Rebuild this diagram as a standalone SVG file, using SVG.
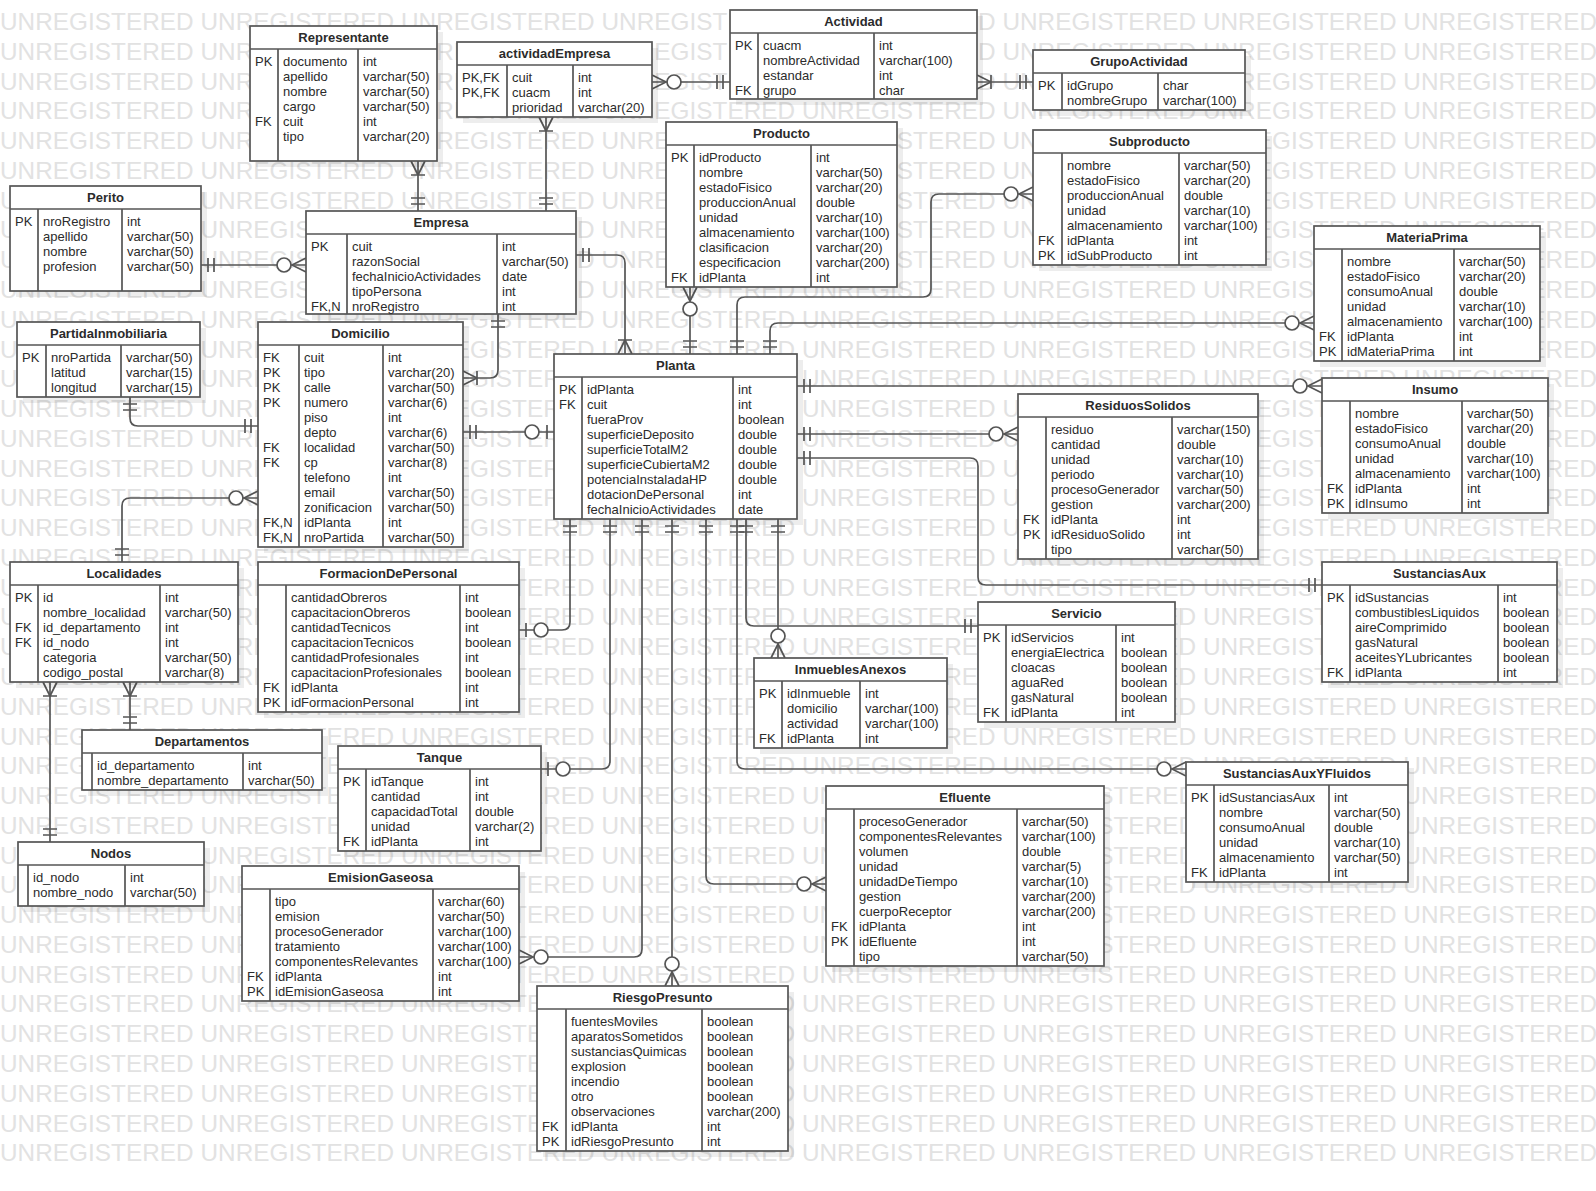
<svg xmlns="http://www.w3.org/2000/svg" width="1596" height="1191" viewBox="0 0 1596 1191">
<style>
.wm{font-family:"Liberation Sans",Arial,sans-serif;font-size:24.3px;fill:#e2e2e2}
.sh{fill:#000;fill-opacity:.07}
.bx{fill:#fff;stroke:#555;stroke-width:1.7}
.dv{fill:none;stroke:#555;stroke-width:1.7}
.t{font-family:"Liberation Sans",Arial,sans-serif;font-size:13px;fill:#2b2b2b}
.ti{font-family:"Liberation Sans",Arial,sans-serif;font-size:13px;font-weight:bold;fill:#2b2b2b;text-anchor:middle}
.c{fill:none;stroke:#555;stroke-width:1.7}
.mk{fill:none;stroke:#555;stroke-width:1.7}
.mc{fill:#fff;stroke:#555;stroke-width:1.7}
</style>
<defs>
<marker id="one" markerUnits="userSpaceOnUse" orient="auto-start-reverse" overflow="visible" refX="0" refY="0" markerWidth="1" markerHeight="1"><path class="mk" d="M-7,-7V7M-13,-7V7"/></marker>
<marker id="oneMany" markerUnits="userSpaceOnUse" orient="auto-start-reverse" overflow="visible" refX="0" refY="0" markerWidth="1" markerHeight="1"><path class="mk" d="M-14,0L0,-7M-14,0L0,7M-14,-7V7"/></marker>
<marker id="zeroMany" markerUnits="userSpaceOnUse" orient="auto-start-reverse" overflow="visible" refX="0" refY="0" markerWidth="1" markerHeight="1"><path class="mk" d="M-14,0L0,-7M-14,0L0,7"/><circle class="mc" cx="-22" cy="0" r="7"/></marker>
<marker id="zeroOne" markerUnits="userSpaceOnUse" orient="auto-start-reverse" overflow="visible" refX="0" refY="0" markerWidth="1" markerHeight="1"><path class="mk" d="M-7,-7V7"/><circle class="mc" cx="-22" cy="0" r="7"/></marker>
</defs>
<rect x="0" y="0" width="1596" height="1191" fill="#fff"/>
<g id="watermark">
<text class="wm" x="0" y="30" textLength="1597" lengthAdjust="spacing">UNREGISTERED UNREGISTERED UNREGISTERED UNREGISTERED UNREGISTERED UNREGISTERED UNREGISTERED UNREGISTERED</text>
<text class="wm" x="0" y="59.8" textLength="1597" lengthAdjust="spacing">UNREGISTERED UNREGISTERED UNREGISTERED UNREGISTERED UNREGISTERED UNREGISTERED UNREGISTERED UNREGISTERED</text>
<text class="wm" x="0" y="89.5" textLength="1597" lengthAdjust="spacing">UNREGISTERED UNREGISTERED UNREGISTERED UNREGISTERED UNREGISTERED UNREGISTERED UNREGISTERED UNREGISTERED</text>
<text class="wm" x="0" y="119.3" textLength="1597" lengthAdjust="spacing">UNREGISTERED UNREGISTERED UNREGISTERED UNREGISTERED UNREGISTERED UNREGISTERED UNREGISTERED UNREGISTERED</text>
<text class="wm" x="0" y="149.1" textLength="1597" lengthAdjust="spacing">UNREGISTERED UNREGISTERED UNREGISTERED UNREGISTERED UNREGISTERED UNREGISTERED UNREGISTERED UNREGISTERED</text>
<text class="wm" x="0" y="178.9" textLength="1597" lengthAdjust="spacing">UNREGISTERED UNREGISTERED UNREGISTERED UNREGISTERED UNREGISTERED UNREGISTERED UNREGISTERED UNREGISTERED</text>
<text class="wm" x="0" y="208.6" textLength="1597" lengthAdjust="spacing">UNREGISTERED UNREGISTERED UNREGISTERED UNREGISTERED UNREGISTERED UNREGISTERED UNREGISTERED UNREGISTERED</text>
<text class="wm" x="0" y="238.4" textLength="1597" lengthAdjust="spacing">UNREGISTERED UNREGISTERED UNREGISTERED UNREGISTERED UNREGISTERED UNREGISTERED UNREGISTERED UNREGISTERED</text>
<text class="wm" x="0" y="268.2" textLength="1597" lengthAdjust="spacing">UNREGISTERED UNREGISTERED UNREGISTERED UNREGISTERED UNREGISTERED UNREGISTERED UNREGISTERED UNREGISTERED</text>
<text class="wm" x="0" y="297.9" textLength="1597" lengthAdjust="spacing">UNREGISTERED UNREGISTERED UNREGISTERED UNREGISTERED UNREGISTERED UNREGISTERED UNREGISTERED UNREGISTERED</text>
<text class="wm" x="0" y="327.7" textLength="1597" lengthAdjust="spacing">UNREGISTERED UNREGISTERED UNREGISTERED UNREGISTERED UNREGISTERED UNREGISTERED UNREGISTERED UNREGISTERED</text>
<text class="wm" x="0" y="357.5" textLength="1597" lengthAdjust="spacing">UNREGISTERED UNREGISTERED UNREGISTERED UNREGISTERED UNREGISTERED UNREGISTERED UNREGISTERED UNREGISTERED</text>
<text class="wm" x="0" y="387.2" textLength="1597" lengthAdjust="spacing">UNREGISTERED UNREGISTERED UNREGISTERED UNREGISTERED UNREGISTERED UNREGISTERED UNREGISTERED UNREGISTERED</text>
<text class="wm" x="0" y="417" textLength="1597" lengthAdjust="spacing">UNREGISTERED UNREGISTERED UNREGISTERED UNREGISTERED UNREGISTERED UNREGISTERED UNREGISTERED UNREGISTERED</text>
<text class="wm" x="0" y="446.8" textLength="1597" lengthAdjust="spacing">UNREGISTERED UNREGISTERED UNREGISTERED UNREGISTERED UNREGISTERED UNREGISTERED UNREGISTERED UNREGISTERED</text>
<text class="wm" x="0" y="476.6" textLength="1597" lengthAdjust="spacing">UNREGISTERED UNREGISTERED UNREGISTERED UNREGISTERED UNREGISTERED UNREGISTERED UNREGISTERED UNREGISTERED</text>
<text class="wm" x="0" y="506.3" textLength="1597" lengthAdjust="spacing">UNREGISTERED UNREGISTERED UNREGISTERED UNREGISTERED UNREGISTERED UNREGISTERED UNREGISTERED UNREGISTERED</text>
<text class="wm" x="0" y="536.1" textLength="1597" lengthAdjust="spacing">UNREGISTERED UNREGISTERED UNREGISTERED UNREGISTERED UNREGISTERED UNREGISTERED UNREGISTERED UNREGISTERED</text>
<text class="wm" x="0" y="565.9" textLength="1597" lengthAdjust="spacing">UNREGISTERED UNREGISTERED UNREGISTERED UNREGISTERED UNREGISTERED UNREGISTERED UNREGISTERED UNREGISTERED</text>
<text class="wm" x="0" y="595.6" textLength="1597" lengthAdjust="spacing">UNREGISTERED UNREGISTERED UNREGISTERED UNREGISTERED UNREGISTERED UNREGISTERED UNREGISTERED UNREGISTERED</text>
<text class="wm" x="0" y="625.4" textLength="1597" lengthAdjust="spacing">UNREGISTERED UNREGISTERED UNREGISTERED UNREGISTERED UNREGISTERED UNREGISTERED UNREGISTERED UNREGISTERED</text>
<text class="wm" x="0" y="655.2" textLength="1597" lengthAdjust="spacing">UNREGISTERED UNREGISTERED UNREGISTERED UNREGISTERED UNREGISTERED UNREGISTERED UNREGISTERED UNREGISTERED</text>
<text class="wm" x="0" y="684.9" textLength="1597" lengthAdjust="spacing">UNREGISTERED UNREGISTERED UNREGISTERED UNREGISTERED UNREGISTERED UNREGISTERED UNREGISTERED UNREGISTERED</text>
<text class="wm" x="0" y="714.7" textLength="1597" lengthAdjust="spacing">UNREGISTERED UNREGISTERED UNREGISTERED UNREGISTERED UNREGISTERED UNREGISTERED UNREGISTERED UNREGISTERED</text>
<text class="wm" x="0" y="744.5" textLength="1597" lengthAdjust="spacing">UNREGISTERED UNREGISTERED UNREGISTERED UNREGISTERED UNREGISTERED UNREGISTERED UNREGISTERED UNREGISTERED</text>
<text class="wm" x="0" y="774.3" textLength="1597" lengthAdjust="spacing">UNREGISTERED UNREGISTERED UNREGISTERED UNREGISTERED UNREGISTERED UNREGISTERED UNREGISTERED UNREGISTERED</text>
<text class="wm" x="0" y="804" textLength="1597" lengthAdjust="spacing">UNREGISTERED UNREGISTERED UNREGISTERED UNREGISTERED UNREGISTERED UNREGISTERED UNREGISTERED UNREGISTERED</text>
<text class="wm" x="0" y="833.8" textLength="1597" lengthAdjust="spacing">UNREGISTERED UNREGISTERED UNREGISTERED UNREGISTERED UNREGISTERED UNREGISTERED UNREGISTERED UNREGISTERED</text>
<text class="wm" x="0" y="863.6" textLength="1597" lengthAdjust="spacing">UNREGISTERED UNREGISTERED UNREGISTERED UNREGISTERED UNREGISTERED UNREGISTERED UNREGISTERED UNREGISTERED</text>
<text class="wm" x="0" y="893.3" textLength="1597" lengthAdjust="spacing">UNREGISTERED UNREGISTERED UNREGISTERED UNREGISTERED UNREGISTERED UNREGISTERED UNREGISTERED UNREGISTERED</text>
<text class="wm" x="0" y="923.1" textLength="1597" lengthAdjust="spacing">UNREGISTERED UNREGISTERED UNREGISTERED UNREGISTERED UNREGISTERED UNREGISTERED UNREGISTERED UNREGISTERED</text>
<text class="wm" x="0" y="952.9" textLength="1597" lengthAdjust="spacing">UNREGISTERED UNREGISTERED UNREGISTERED UNREGISTERED UNREGISTERED UNREGISTERED UNREGISTERED UNREGISTERED</text>
<text class="wm" x="0" y="982.6" textLength="1597" lengthAdjust="spacing">UNREGISTERED UNREGISTERED UNREGISTERED UNREGISTERED UNREGISTERED UNREGISTERED UNREGISTERED UNREGISTERED</text>
<text class="wm" x="0" y="1012.4" textLength="1597" lengthAdjust="spacing">UNREGISTERED UNREGISTERED UNREGISTERED UNREGISTERED UNREGISTERED UNREGISTERED UNREGISTERED UNREGISTERED</text>
<text class="wm" x="0" y="1042.2" textLength="1597" lengthAdjust="spacing">UNREGISTERED UNREGISTERED UNREGISTERED UNREGISTERED UNREGISTERED UNREGISTERED UNREGISTERED UNREGISTERED</text>
<text class="wm" x="0" y="1072" textLength="1597" lengthAdjust="spacing">UNREGISTERED UNREGISTERED UNREGISTERED UNREGISTERED UNREGISTERED UNREGISTERED UNREGISTERED UNREGISTERED</text>
<text class="wm" x="0" y="1101.7" textLength="1597" lengthAdjust="spacing">UNREGISTERED UNREGISTERED UNREGISTERED UNREGISTERED UNREGISTERED UNREGISTERED UNREGISTERED UNREGISTERED</text>
<text class="wm" x="0" y="1131.5" textLength="1597" lengthAdjust="spacing">UNREGISTERED UNREGISTERED UNREGISTERED UNREGISTERED UNREGISTERED UNREGISTERED UNREGISTERED UNREGISTERED</text>
<text class="wm" x="0" y="1161.3" textLength="1597" lengthAdjust="spacing">UNREGISTERED UNREGISTERED UNREGISTERED UNREGISTERED UNREGISTERED UNREGISTERED UNREGISTERED UNREGISTERED</text>
</g>
<g id="connectors">
<path class="c" d="M418,161V211" marker-start="url(#oneMany)" marker-end="url(#one)"/>
<path class="c" d="M546,117V211" marker-start="url(#oneMany)" marker-end="url(#one)"/>
<path class="c" d="M652,82H730" marker-start="url(#zeroMany)" marker-end="url(#one)"/>
<path class="c" d="M977,82H1033" marker-start="url(#oneMany)" marker-end="url(#one)"/>
<path class="c" d="M201,265H306" marker-start="url(#one)" marker-end="url(#zeroMany)"/>
<path class="c" d="M576,255H617Q625,255 625,263V354" marker-start="url(#one)" marker-end="url(#oneMany)"/>
<path class="c" d="M463,378H490Q498,378 498,370V314" marker-start="url(#oneMany)" marker-end="url(#one)"/>
<path class="c" d="M130,397V418Q130,426 138,426H258" marker-start="url(#one)" marker-end="url(#one)"/>
<path class="c" d="M258,498H130Q122,498 122,506V562" marker-start="url(#zeroMany)" marker-end="url(#one)"/>
<path class="c" d="M463,432H554" marker-start="url(#one)" marker-end="url(#zeroOne)"/>
<path class="c" d="M690,287V354" marker-start="url(#zeroMany)" marker-end="url(#one)"/>
<path class="c" d="M1033,194H939Q931,194 931,202V289Q931,297 923,297H745Q737,297 737,305V354" marker-start="url(#zeroMany)" marker-end="url(#one)"/>
<path class="c" d="M1314,323H778Q770,323 770,331V354" marker-start="url(#zeroMany)" marker-end="url(#one)"/>
<path class="c" d="M797,386H1322" marker-start="url(#one)" marker-end="url(#zeroMany)"/>
<path class="c" d="M797,434H1018" marker-start="url(#one)" marker-end="url(#zeroMany)"/>
<path class="c" d="M797,458H970Q978,458 978,466V577Q978,585 986,585H1322" marker-start="url(#one)" marker-end="url(#one)"/>
<path class="c" d="M570,519V622Q570,630 562,630H519" marker-start="url(#one)" marker-end="url(#zeroOne)"/>
<path class="c" d="M610,519V761Q610,769 602,769H541" marker-start="url(#one)" marker-end="url(#zeroOne)"/>
<path class="c" d="M642,519V949Q642,957 634,957H519" marker-start="url(#one)" marker-end="url(#zeroMany)"/>
<path class="c" d="M672,519V986" marker-start="url(#one)" marker-end="url(#zeroMany)"/>
<path class="c" d="M706,519V876Q706,884 714,884H826" marker-start="url(#one)" marker-end="url(#zeroMany)"/>
<path class="c" d="M737,519V761Q737,769 745,769H1186" marker-start="url(#one)" marker-end="url(#zeroMany)"/>
<path class="c" d="M746,519V618Q746,626 754,626H978" marker-start="url(#one)" marker-end="url(#one)"/>
<path class="c" d="M778,519V658" marker-start="url(#one)" marker-end="url(#zeroMany)"/>
<path class="c" d="M130,682V730" marker-start="url(#oneMany)" marker-end="url(#one)"/>
<path class="c" d="M50,682V842" marker-start="url(#oneMany)" marker-end="url(#one)"/>
</g>
<g id="representante">
<rect class="sh" x="256" y="32" width="187" height="135"/>
<rect class="bx" x="250" y="26" width="187" height="135"/>
<path class="dv" d="M250,49H437M278,49V161M358,49V161"/>
<text class="ti" x="343.5" y="42">Representante</text>
<text class="t"><tspan x="255" y="66">PK</tspan><tspan x="255" y="126">FK</tspan></text>
<text class="t"><tspan x="283" y="66">documento</tspan><tspan x="283" y="81">apellido</tspan><tspan x="283" y="96">nombre</tspan><tspan x="283" y="111">cargo</tspan><tspan x="283" y="126">cuit</tspan><tspan x="283" y="141">tipo</tspan></text>
<text class="t"><tspan x="363" y="66">int</tspan><tspan x="363" y="81">varchar(50)</tspan><tspan x="363" y="96">varchar(50)</tspan><tspan x="363" y="111">varchar(50)</tspan><tspan x="363" y="126">int</tspan><tspan x="363" y="141">varchar(20)</tspan></text>
</g>
<g id="perito">
<rect class="sh" x="16" y="192" width="191" height="105"/>
<rect class="bx" x="10" y="186" width="191" height="105"/>
<path class="dv" d="M10,209H201M38,209V291M122,209V291"/>
<text class="ti" x="105.5" y="202">Perito</text>
<text class="t"><tspan x="15" y="226">PK</tspan></text>
<text class="t"><tspan x="43" y="226">nroRegistro</tspan><tspan x="43" y="241">apellido</tspan><tspan x="43" y="256">nombre</tspan><tspan x="43" y="271">profesion</tspan></text>
<text class="t"><tspan x="127" y="226">int</tspan><tspan x="127" y="241">varchar(50)</tspan><tspan x="127" y="256">varchar(50)</tspan><tspan x="127" y="271">varchar(50)</tspan></text>
</g>
<g id="actividadEmpresa">
<rect class="sh" x="463" y="48" width="195" height="75"/>
<rect class="bx" x="457" y="42" width="195" height="75"/>
<path class="dv" d="M457,65H652M507,65V117M573,65V117"/>
<text class="ti" x="554.5" y="58">actividadEmpresa</text>
<text class="t"><tspan x="462" y="82">PK,FK</tspan><tspan x="462" y="97">PK,FK</tspan></text>
<text class="t"><tspan x="512" y="82">cuit</tspan><tspan x="512" y="97">cuacm</tspan><tspan x="512" y="112">prioridad</tspan></text>
<text class="t"><tspan x="578" y="82">int</tspan><tspan x="578" y="97">int</tspan><tspan x="578" y="112">varchar(20)</tspan></text>
</g>
<g id="actividad">
<rect class="sh" x="736" y="16" width="247" height="89"/>
<rect class="bx" x="730" y="10" width="247" height="89"/>
<path class="dv" d="M730,33H977M758,33V99M874,33V99"/>
<text class="ti" x="853.5" y="26">Actividad</text>
<text class="t"><tspan x="735" y="50">PK</tspan><tspan x="735" y="95">FK</tspan></text>
<text class="t"><tspan x="763" y="50">cuacm</tspan><tspan x="763" y="65">nombreActividad</tspan><tspan x="763" y="80">estandar</tspan><tspan x="763" y="95">grupo</tspan></text>
<text class="t"><tspan x="879" y="50">int</tspan><tspan x="879" y="65">varchar(100)</tspan><tspan x="879" y="80">int</tspan><tspan x="879" y="95">char</tspan></text>
</g>
<g id="grupoActividad">
<rect class="sh" x="1039" y="56" width="212" height="60"/>
<rect class="bx" x="1033" y="50" width="212" height="60"/>
<path class="dv" d="M1033,73H1245M1062,73V110M1158,73V110"/>
<text class="ti" x="1139" y="66">GrupoActividad</text>
<text class="t"><tspan x="1038" y="90">PK</tspan></text>
<text class="t"><tspan x="1067" y="90">idGrupo</tspan><tspan x="1067" y="105">nombreGrupo</tspan></text>
<text class="t"><tspan x="1163" y="90">char</tspan><tspan x="1163" y="105">varchar(100)</tspan></text>
</g>
<g id="subproducto">
<rect class="sh" x="1039" y="136" width="233" height="135"/>
<rect class="bx" x="1033" y="130" width="233" height="135"/>
<path class="dv" d="M1033,153H1266M1062,153V265M1179,153V265"/>
<text class="ti" x="1149.5" y="146">Subproducto</text>
<text class="t"><tspan x="1038" y="245">FK</tspan><tspan x="1038" y="260">PK</tspan></text>
<text class="t"><tspan x="1067" y="170">nombre</tspan><tspan x="1067" y="185">estadoFisico</tspan><tspan x="1067" y="200">produccionAnual</tspan><tspan x="1067" y="215">unidad</tspan><tspan x="1067" y="230">almacenamiento</tspan><tspan x="1067" y="245">idPlanta</tspan><tspan x="1067" y="260">idSubProducto</tspan></text>
<text class="t"><tspan x="1184" y="170">varchar(50)</tspan><tspan x="1184" y="185">varchar(20)</tspan><tspan x="1184" y="200">double</tspan><tspan x="1184" y="215">varchar(10)</tspan><tspan x="1184" y="230">varchar(100)</tspan><tspan x="1184" y="245">int</tspan><tspan x="1184" y="260">int</tspan></text>
</g>
<g id="producto">
<rect class="sh" x="672" y="128" width="231" height="165"/>
<rect class="bx" x="666" y="122" width="231" height="165"/>
<path class="dv" d="M666,145H897M694,145V287M811,145V287"/>
<text class="ti" x="781.5" y="138">Producto</text>
<text class="t"><tspan x="671" y="162">PK</tspan><tspan x="671" y="282">FK</tspan></text>
<text class="t"><tspan x="699" y="162">idProducto</tspan><tspan x="699" y="177">nombre</tspan><tspan x="699" y="192">estadoFisico</tspan><tspan x="699" y="207">produccionAnual</tspan><tspan x="699" y="222">unidad</tspan><tspan x="699" y="237">almacenamiento</tspan><tspan x="699" y="252">clasificacion</tspan><tspan x="699" y="267">especificacion</tspan><tspan x="699" y="282">idPlanta</tspan></text>
<text class="t"><tspan x="816" y="162">int</tspan><tspan x="816" y="177">varchar(50)</tspan><tspan x="816" y="192">varchar(20)</tspan><tspan x="816" y="207">double</tspan><tspan x="816" y="222">varchar(10)</tspan><tspan x="816" y="237">varchar(100)</tspan><tspan x="816" y="252">varchar(20)</tspan><tspan x="816" y="267">varchar(200)</tspan><tspan x="816" y="282">int</tspan></text>
</g>
<g id="empresa">
<rect class="sh" x="312" y="217" width="270" height="103"/>
<rect class="bx" x="306" y="211" width="270" height="103"/>
<path class="dv" d="M306,234H576M347,234V314M497,234V314"/>
<text class="ti" x="441" y="227">Empresa</text>
<text class="t"><tspan x="311" y="251">PK</tspan><tspan x="311" y="311">FK,N</tspan></text>
<text class="t"><tspan x="352" y="251">cuit</tspan><tspan x="352" y="266">razonSocial</tspan><tspan x="352" y="281">fechaInicioActividades</tspan><tspan x="352" y="296">tipoPersona</tspan><tspan x="352" y="311">nroRegistro</tspan></text>
<text class="t"><tspan x="502" y="251">int</tspan><tspan x="502" y="266">varchar(50)</tspan><tspan x="502" y="281">date</tspan><tspan x="502" y="296">int</tspan><tspan x="502" y="311">int</tspan></text>
</g>
<g id="partidaInmobiliaria">
<rect class="sh" x="23" y="328" width="183" height="75"/>
<rect class="bx" x="17" y="322" width="183" height="75"/>
<path class="dv" d="M17,345H200M46,345V397M121,345V397"/>
<text class="ti" x="108.5" y="338">PartidaInmobiliaria</text>
<text class="t"><tspan x="22" y="362">PK</tspan></text>
<text class="t"><tspan x="51" y="362">nroPartida</tspan><tspan x="51" y="377">latitud</tspan><tspan x="51" y="392">longitud</tspan></text>
<text class="t"><tspan x="126" y="362">varchar(50)</tspan><tspan x="126" y="377">varchar(15)</tspan><tspan x="126" y="392">varchar(15)</tspan></text>
</g>
<g id="domicilio">
<rect class="sh" x="264" y="328" width="205" height="225"/>
<rect class="bx" x="258" y="322" width="205" height="225"/>
<path class="dv" d="M258,345H463M299,345V547M383,345V547"/>
<text class="ti" x="360.5" y="338">Domicilio</text>
<text class="t"><tspan x="263" y="362">FK</tspan><tspan x="263" y="377">PK</tspan><tspan x="263" y="392">PK</tspan><tspan x="263" y="407">PK</tspan><tspan x="263" y="452">FK</tspan><tspan x="263" y="467">FK</tspan><tspan x="263" y="527">FK,N</tspan><tspan x="263" y="542">FK,N</tspan></text>
<text class="t"><tspan x="304" y="362">cuit</tspan><tspan x="304" y="377">tipo</tspan><tspan x="304" y="392">calle</tspan><tspan x="304" y="407">numero</tspan><tspan x="304" y="422">piso</tspan><tspan x="304" y="437">depto</tspan><tspan x="304" y="452">localidad</tspan><tspan x="304" y="467">cp</tspan><tspan x="304" y="482">telefono</tspan><tspan x="304" y="497">email</tspan><tspan x="304" y="512">zonificacion</tspan><tspan x="304" y="527">idPlanta</tspan><tspan x="304" y="542">nroPartida</tspan></text>
<text class="t"><tspan x="388" y="362">int</tspan><tspan x="388" y="377">varchar(20)</tspan><tspan x="388" y="392">varchar(50)</tspan><tspan x="388" y="407">varchar(6)</tspan><tspan x="388" y="422">int</tspan><tspan x="388" y="437">varchar(6)</tspan><tspan x="388" y="452">varchar(50)</tspan><tspan x="388" y="467">varchar(8)</tspan><tspan x="388" y="482">int</tspan><tspan x="388" y="497">varchar(50)</tspan><tspan x="388" y="512">varchar(50)</tspan><tspan x="388" y="527">int</tspan><tspan x="388" y="542">varchar(50)</tspan></text>
</g>
<g id="localidades">
<rect class="sh" x="16" y="568" width="228" height="120"/>
<rect class="bx" x="10" y="562" width="228" height="120"/>
<path class="dv" d="M10,585H238M38,585V682M160,585V682"/>
<text class="ti" x="124" y="578">Localidades</text>
<text class="t"><tspan x="15" y="602">PK</tspan><tspan x="15" y="632">FK</tspan><tspan x="15" y="647">FK</tspan></text>
<text class="t"><tspan x="43" y="602">id</tspan><tspan x="43" y="617">nombre_localidad</tspan><tspan x="43" y="632">id_departamento</tspan><tspan x="43" y="647">id_nodo</tspan><tspan x="43" y="662">categoria</tspan><tspan x="43" y="677">codigo_postal</tspan></text>
<text class="t"><tspan x="165" y="602">int</tspan><tspan x="165" y="617">varchar(50)</tspan><tspan x="165" y="632">int</tspan><tspan x="165" y="647">int</tspan><tspan x="165" y="662">varchar(50)</tspan><tspan x="165" y="677">varchar(8)</tspan></text>
</g>
<g id="formacionDePersonal">
<rect class="sh" x="264" y="568" width="261" height="150"/>
<rect class="bx" x="258" y="562" width="261" height="150"/>
<path class="dv" d="M258,585H519M286,585V712M460,585V712"/>
<text class="ti" x="388.5" y="578">FormacionDePersonal</text>
<text class="t"><tspan x="263" y="692">FK</tspan><tspan x="263" y="707">PK</tspan></text>
<text class="t"><tspan x="291" y="602">cantidadObreros</tspan><tspan x="291" y="617">capacitacionObreros</tspan><tspan x="291" y="632">cantidadTecnicos</tspan><tspan x="291" y="647">capacitacionTecnicos</tspan><tspan x="291" y="662">cantidadProfesionales</tspan><tspan x="291" y="677">capacitacionProfesionales</tspan><tspan x="291" y="692">idPlanta</tspan><tspan x="291" y="707">idFormacionPersonal</tspan></text>
<text class="t"><tspan x="465" y="602">int</tspan><tspan x="465" y="617">boolean</tspan><tspan x="465" y="632">int</tspan><tspan x="465" y="647">boolean</tspan><tspan x="465" y="662">int</tspan><tspan x="465" y="677">boolean</tspan><tspan x="465" y="692">int</tspan><tspan x="465" y="707">int</tspan></text>
</g>
<g id="planta">
<rect class="sh" x="560" y="360" width="243" height="165"/>
<rect class="bx" x="554" y="354" width="243" height="165"/>
<path class="dv" d="M554,377H797M582,377V519M733,377V519"/>
<text class="ti" x="675.5" y="370">Planta</text>
<text class="t"><tspan x="559" y="394">PK</tspan><tspan x="559" y="409">FK</tspan></text>
<text class="t"><tspan x="587" y="394">idPlanta</tspan><tspan x="587" y="409">cuit</tspan><tspan x="587" y="424">fueraProv</tspan><tspan x="587" y="439">superficieDeposito</tspan><tspan x="587" y="454">superficieTotalM2</tspan><tspan x="587" y="469">superficieCubiertaM2</tspan><tspan x="587" y="484">potenciaInstaladaHP</tspan><tspan x="587" y="499">dotacionDePersonal</tspan><tspan x="587" y="514">fechaInicioActividades</tspan></text>
<text class="t"><tspan x="738" y="394">int</tspan><tspan x="738" y="409">int</tspan><tspan x="738" y="424">boolean</tspan><tspan x="738" y="439">double</tspan><tspan x="738" y="454">double</tspan><tspan x="738" y="469">double</tspan><tspan x="738" y="484">double</tspan><tspan x="738" y="499">int</tspan><tspan x="738" y="514">date</tspan></text>
</g>
<g id="residuosSolidos">
<rect class="sh" x="1024" y="400" width="240" height="165"/>
<rect class="bx" x="1018" y="394" width="240" height="165"/>
<path class="dv" d="M1018,417H1258M1046,417V559M1172,417V559"/>
<text class="ti" x="1138" y="410">ResiduosSolidos</text>
<text class="t"><tspan x="1023" y="524">FK</tspan><tspan x="1023" y="539">PK</tspan></text>
<text class="t"><tspan x="1051" y="434">residuo</tspan><tspan x="1051" y="449">cantidad</tspan><tspan x="1051" y="464">unidad</tspan><tspan x="1051" y="479">periodo</tspan><tspan x="1051" y="494">procesoGenerador</tspan><tspan x="1051" y="509">gestion</tspan><tspan x="1051" y="524">idPlanta</tspan><tspan x="1051" y="539">idResiduoSolido</tspan><tspan x="1051" y="554">tipo</tspan></text>
<text class="t"><tspan x="1177" y="434">varchar(150)</tspan><tspan x="1177" y="449">double</tspan><tspan x="1177" y="464">varchar(10)</tspan><tspan x="1177" y="479">varchar(10)</tspan><tspan x="1177" y="494">varchar(50)</tspan><tspan x="1177" y="509">varchar(200)</tspan><tspan x="1177" y="524">int</tspan><tspan x="1177" y="539">int</tspan><tspan x="1177" y="554">varchar(50)</tspan></text>
</g>
<g id="materiaPrima">
<rect class="sh" x="1320" y="232" width="226" height="135"/>
<rect class="bx" x="1314" y="226" width="226" height="135"/>
<path class="dv" d="M1314,249H1540M1342,249V361M1454,249V361"/>
<text class="ti" x="1427" y="242">MateriaPrima</text>
<text class="t"><tspan x="1319" y="341">FK</tspan><tspan x="1319" y="356">PK</tspan></text>
<text class="t"><tspan x="1347" y="266">nombre</tspan><tspan x="1347" y="281">estadoFisico</tspan><tspan x="1347" y="296">consumoAnual</tspan><tspan x="1347" y="311">unidad</tspan><tspan x="1347" y="326">almacenamiento</tspan><tspan x="1347" y="341">idPlanta</tspan><tspan x="1347" y="356">idMateriaPrima</tspan></text>
<text class="t"><tspan x="1459" y="266">varchar(50)</tspan><tspan x="1459" y="281">varchar(20)</tspan><tspan x="1459" y="296">double</tspan><tspan x="1459" y="311">varchar(10)</tspan><tspan x="1459" y="326">varchar(100)</tspan><tspan x="1459" y="341">int</tspan><tspan x="1459" y="356">int</tspan></text>
</g>
<g id="insumo">
<rect class="sh" x="1328" y="384" width="226" height="135"/>
<rect class="bx" x="1322" y="378" width="226" height="135"/>
<path class="dv" d="M1322,401H1548M1350,401V513M1462,401V513"/>
<text class="ti" x="1435" y="394">Insumo</text>
<text class="t"><tspan x="1327" y="493">FK</tspan><tspan x="1327" y="508">PK</tspan></text>
<text class="t"><tspan x="1355" y="418">nombre</tspan><tspan x="1355" y="433">estadoFisico</tspan><tspan x="1355" y="448">consumoAnual</tspan><tspan x="1355" y="463">unidad</tspan><tspan x="1355" y="478">almacenamiento</tspan><tspan x="1355" y="493">idPlanta</tspan><tspan x="1355" y="508">idInsumo</tspan></text>
<text class="t"><tspan x="1467" y="418">varchar(50)</tspan><tspan x="1467" y="433">varchar(20)</tspan><tspan x="1467" y="448">double</tspan><tspan x="1467" y="463">varchar(10)</tspan><tspan x="1467" y="478">varchar(100)</tspan><tspan x="1467" y="493">int</tspan><tspan x="1467" y="508">int</tspan></text>
</g>
<g id="sustanciasAux">
<rect class="sh" x="1328" y="568" width="235" height="120"/>
<rect class="bx" x="1322" y="562" width="235" height="120"/>
<path class="dv" d="M1322,585H1557M1350,585V682M1498,585V682"/>
<text class="ti" x="1439.5" y="578">SustanciasAux</text>
<text class="t"><tspan x="1327" y="602">PK</tspan><tspan x="1327" y="677">FK</tspan></text>
<text class="t"><tspan x="1355" y="602">idSustancias</tspan><tspan x="1355" y="617">combustiblesLiquidos</tspan><tspan x="1355" y="632">aireComprimido</tspan><tspan x="1355" y="647">gasNatural</tspan><tspan x="1355" y="662">aceitesYLubricantes</tspan><tspan x="1355" y="677">idPlanta</tspan></text>
<text class="t"><tspan x="1503" y="602">int</tspan><tspan x="1503" y="617">boolean</tspan><tspan x="1503" y="632">boolean</tspan><tspan x="1503" y="647">boolean</tspan><tspan x="1503" y="662">boolean</tspan><tspan x="1503" y="677">int</tspan></text>
</g>
<g id="sustanciasAuxYFluidos">
<rect class="sh" x="1192" y="768" width="222" height="120"/>
<rect class="bx" x="1186" y="762" width="222" height="120"/>
<path class="dv" d="M1186,785H1408M1214,785V882M1329,785V882"/>
<text class="ti" x="1297" y="778">SustanciasAuxYFluidos</text>
<text class="t"><tspan x="1191" y="802">PK</tspan><tspan x="1191" y="877">FK</tspan></text>
<text class="t"><tspan x="1219" y="802">idSustanciasAux</tspan><tspan x="1219" y="817">nombre</tspan><tspan x="1219" y="832">consumoAnual</tspan><tspan x="1219" y="847">unidad</tspan><tspan x="1219" y="862">almacenamiento</tspan><tspan x="1219" y="877">idPlanta</tspan></text>
<text class="t"><tspan x="1334" y="802">int</tspan><tspan x="1334" y="817">varchar(50)</tspan><tspan x="1334" y="832">double</tspan><tspan x="1334" y="847">varchar(10)</tspan><tspan x="1334" y="862">varchar(50)</tspan><tspan x="1334" y="877">int</tspan></text>
</g>
<g id="servicio">
<rect class="sh" x="984" y="608" width="197" height="120"/>
<rect class="bx" x="978" y="602" width="197" height="120"/>
<path class="dv" d="M978,625H1175M1006,625V722M1116,625V722"/>
<text class="ti" x="1076.5" y="618">Servicio</text>
<text class="t"><tspan x="983" y="642">PK</tspan><tspan x="983" y="717">FK</tspan></text>
<text class="t"><tspan x="1011" y="642">idServicios</tspan><tspan x="1011" y="657">energiaElectrica</tspan><tspan x="1011" y="672">cloacas</tspan><tspan x="1011" y="687">aguaRed</tspan><tspan x="1011" y="702">gasNatural</tspan><tspan x="1011" y="717">idPlanta</tspan></text>
<text class="t"><tspan x="1121" y="642">int</tspan><tspan x="1121" y="657">boolean</tspan><tspan x="1121" y="672">boolean</tspan><tspan x="1121" y="687">boolean</tspan><tspan x="1121" y="702">boolean</tspan><tspan x="1121" y="717">int</tspan></text>
</g>
<g id="inmueblesAnexos">
<rect class="sh" x="760" y="664" width="193" height="90"/>
<rect class="bx" x="754" y="658" width="193" height="90"/>
<path class="dv" d="M754,681H947M782,681V748M860,681V748"/>
<text class="ti" x="850.5" y="674">InmueblesAnexos</text>
<text class="t"><tspan x="759" y="698">PK</tspan><tspan x="759" y="743">FK</tspan></text>
<text class="t"><tspan x="787" y="698">idInmueble</tspan><tspan x="787" y="713">domicilio</tspan><tspan x="787" y="728">actividad</tspan><tspan x="787" y="743">idPlanta</tspan></text>
<text class="t"><tspan x="865" y="698">int</tspan><tspan x="865" y="713">varchar(100)</tspan><tspan x="865" y="728">varchar(100)</tspan><tspan x="865" y="743">int</tspan></text>
</g>
<g id="efluente">
<rect class="sh" x="832" y="792" width="278" height="180"/>
<rect class="bx" x="826" y="786" width="278" height="180"/>
<path class="dv" d="M826,809H1104M854,809V966M1017,809V966"/>
<text class="ti" x="965" y="802">Efluente</text>
<text class="t"><tspan x="831" y="931">FK</tspan><tspan x="831" y="946">PK</tspan></text>
<text class="t"><tspan x="859" y="826">procesoGenerador</tspan><tspan x="859" y="841">componentesRelevantes</tspan><tspan x="859" y="856">volumen</tspan><tspan x="859" y="871">unidad</tspan><tspan x="859" y="886">unidadDeTiempo</tspan><tspan x="859" y="901">gestion</tspan><tspan x="859" y="916">cuerpoReceptor</tspan><tspan x="859" y="931">idPlanta</tspan><tspan x="859" y="946">idEfluente</tspan><tspan x="859" y="961">tipo</tspan></text>
<text class="t"><tspan x="1022" y="826">varchar(50)</tspan><tspan x="1022" y="841">varchar(100)</tspan><tspan x="1022" y="856">double</tspan><tspan x="1022" y="871">varchar(5)</tspan><tspan x="1022" y="886">varchar(10)</tspan><tspan x="1022" y="901">varchar(200)</tspan><tspan x="1022" y="916">varchar(200)</tspan><tspan x="1022" y="931">int</tspan><tspan x="1022" y="946">int</tspan><tspan x="1022" y="961">varchar(50)</tspan></text>
</g>
<g id="departamentos">
<rect class="sh" x="88" y="736" width="240" height="60"/>
<rect class="bx" x="82" y="730" width="240" height="60"/>
<path class="dv" d="M82,753H322M92,753V790M243,753V790"/>
<text class="ti" x="202" y="746">Departamentos</text>
<text class="t"><tspan x="97" y="770">id_departamento</tspan><tspan x="97" y="785">nombre_departamento</tspan></text>
<text class="t"><tspan x="248" y="770">int</tspan><tspan x="248" y="785">varchar(50)</tspan></text>
</g>
<g id="nodos">
<rect class="sh" x="24" y="848" width="186" height="64"/>
<rect class="bx" x="18" y="842" width="186" height="64"/>
<path class="dv" d="M18,865H204M28,865V906M125,865V906"/>
<text class="ti" x="111" y="858">Nodos</text>
<text class="t"><tspan x="33" y="882">id_nodo</tspan><tspan x="33" y="897">nombre_nodo</tspan></text>
<text class="t"><tspan x="130" y="882">int</tspan><tspan x="130" y="897">varchar(50)</tspan></text>
</g>
<g id="tanque">
<rect class="sh" x="344" y="752" width="203" height="105"/>
<rect class="bx" x="338" y="746" width="203" height="105"/>
<path class="dv" d="M338,769H541M366,769V851M470,769V851"/>
<text class="ti" x="439.5" y="762">Tanque</text>
<text class="t"><tspan x="343" y="786">PK</tspan><tspan x="343" y="846">FK</tspan></text>
<text class="t"><tspan x="371" y="786">idTanque</tspan><tspan x="371" y="801">cantidad</tspan><tspan x="371" y="816">capacidadTotal</tspan><tspan x="371" y="831">unidad</tspan><tspan x="371" y="846">idPlanta</tspan></text>
<text class="t"><tspan x="475" y="786">int</tspan><tspan x="475" y="801">int</tspan><tspan x="475" y="816">double</tspan><tspan x="475" y="831">varchar(2)</tspan><tspan x="475" y="846">int</tspan></text>
</g>
<g id="emisionGaseosa">
<rect class="sh" x="248" y="872" width="277" height="135"/>
<rect class="bx" x="242" y="866" width="277" height="135"/>
<path class="dv" d="M242,889H519M270,889V1001M433,889V1001"/>
<text class="ti" x="380.5" y="882">EmisionGaseosa</text>
<text class="t"><tspan x="247" y="981">FK</tspan><tspan x="247" y="996">PK</tspan></text>
<text class="t"><tspan x="275" y="906">tipo</tspan><tspan x="275" y="921">emision</tspan><tspan x="275" y="936">procesoGenerador</tspan><tspan x="275" y="951">tratamiento</tspan><tspan x="275" y="966">componentesRelevantes</tspan><tspan x="275" y="981">idPlanta</tspan><tspan x="275" y="996">idEmisionGaseosa</tspan></text>
<text class="t"><tspan x="438" y="906">varchar(60)</tspan><tspan x="438" y="921">varchar(50)</tspan><tspan x="438" y="936">varchar(100)</tspan><tspan x="438" y="951">varchar(100)</tspan><tspan x="438" y="966">varchar(100)</tspan><tspan x="438" y="981">int</tspan><tspan x="438" y="996">int</tspan></text>
</g>
<g id="riesgoPresunto">
<rect class="sh" x="543" y="992" width="251" height="165"/>
<rect class="bx" x="537" y="986" width="251" height="165"/>
<path class="dv" d="M537,1009H788M566,1009V1151M702,1009V1151"/>
<text class="ti" x="662.5" y="1002">RiesgoPresunto</text>
<text class="t"><tspan x="542" y="1131">FK</tspan><tspan x="542" y="1146">PK</tspan></text>
<text class="t"><tspan x="571" y="1026">fuentesMoviles</tspan><tspan x="571" y="1041">aparatosSometidos</tspan><tspan x="571" y="1056">sustanciasQuimicas</tspan><tspan x="571" y="1071">explosion</tspan><tspan x="571" y="1086">incendio</tspan><tspan x="571" y="1101">otro</tspan><tspan x="571" y="1116">observaciones</tspan><tspan x="571" y="1131">idPlanta</tspan><tspan x="571" y="1146">idRiesgoPresunto</tspan></text>
<text class="t"><tspan x="707" y="1026">boolean</tspan><tspan x="707" y="1041">boolean</tspan><tspan x="707" y="1056">boolean</tspan><tspan x="707" y="1071">boolean</tspan><tspan x="707" y="1086">boolean</tspan><tspan x="707" y="1101">boolean</tspan><tspan x="707" y="1116">varchar(200)</tspan><tspan x="707" y="1131">int</tspan><tspan x="707" y="1146">int</tspan></text>
</g>
</svg>
